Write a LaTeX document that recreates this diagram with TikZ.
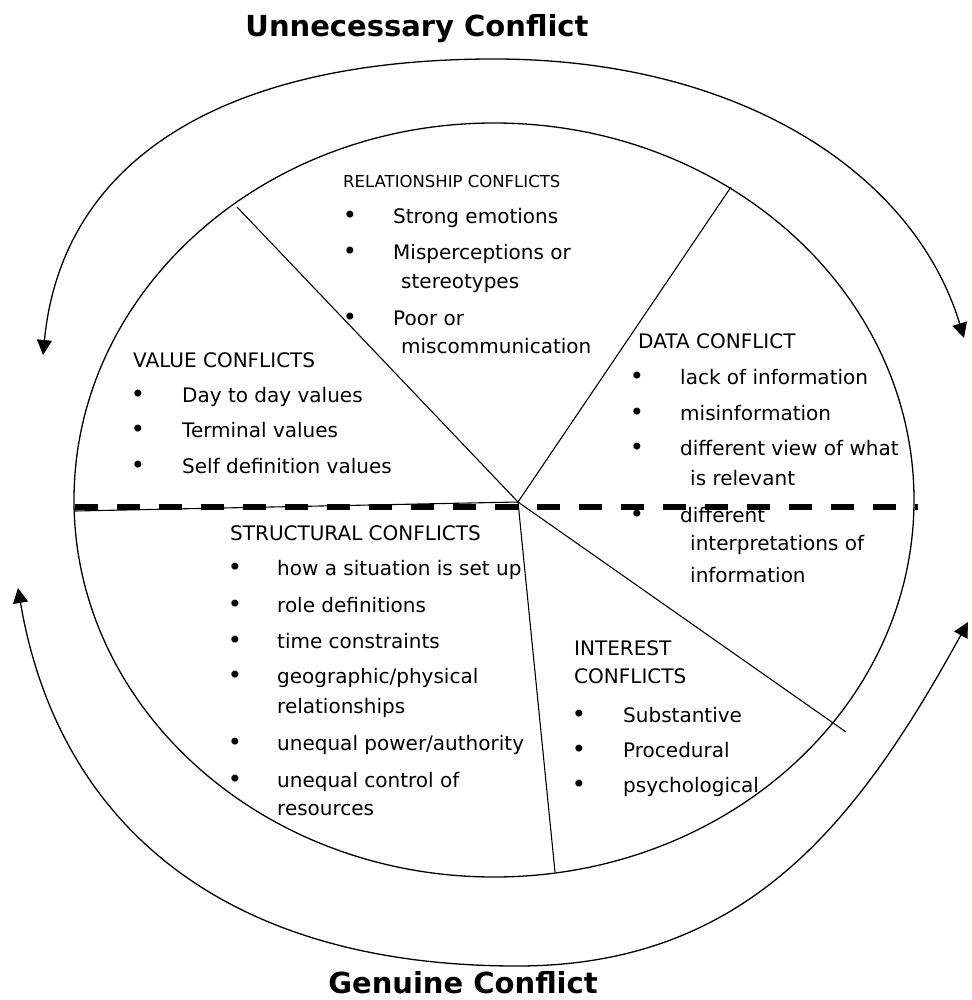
\documentclass[tikz,border=0pt]{standalone}
\usepackage{fontspec}
\setmainfont{DejaVu Sans}
\usetikzlibrary{arrows.meta}
\begin{document}
\begin{tikzpicture}[x=1pt,y=-1pt,
  body/.style={font=\fontsize{20}{24}\selectfont, inner sep=0pt, anchor=base west},
  bul/.style={font=\fontsize{24}{28}\selectfont, inner sep=0pt, anchor=base},
  smallhead/.style={font=\fontsize{16.5}{20}\selectfont, inner sep=0pt, anchor=base west},
  titletext/.style={font=\bfseries\fontsize{29}{34}\selectfont, inner sep=0pt, anchor=base},
  ring/.style={line width=1.3pt},
  divider/.style={line width=1.1pt},
  dashline/.style={line width=5.5pt, dash pattern=on 23pt off 19pt},
  cyc/.style={line width=1.3pt, {Triangle[width=15pt,length=15pt]}-{Triangle[width=15pt,length=15pt]}}
]
\useasboundingbox (0,0) rectangle (971,1000);

% titles
\node[titletext] (tTop) at (417,37) {Unnecessary Conflict};
\node[titletext] (tBot) at (463,993) {Genuine Conflict};

% outer cycle arrows
\coordinate (tl) at (43,355);
\coordinate (tm) at (494,59);
\coordinate (tr) at (964,338);
\coordinate (bl) at (18,588);
\coordinate (bm) at (517,966);
\coordinate (br) at (968,622);
\draw[cyc] (tl) .. controls (62,160) and (223,59) .. (tm)
                .. controls (740,59) and (914,173) .. (tr);
\draw[cyc] (bl) .. controls (57,818) and (217,966) .. (bm)
                .. controls (747,966) and (858,822) .. (br);

% inner circle
\draw[ring] (494,500) ellipse [x radius=420pt, y radius=377pt];

% dividers
\coordinate (C) at (518,502);
\coordinate (ul) at (237,207);
\coordinate (ur) at (731,187);
\coordinate (lf) at (75,511);
\coordinate (bt) at (555,872);
\coordinate (lr) at (846,732);
\coordinate (dl) at (75,507);
\coordinate (dr) at (918,507);
\draw[divider] (ul) -- (C);
\draw[divider] (ur) -- (C);
\draw[divider] (lf) -- (C);
\draw[divider] (C) -- (bt);
\draw[divider] (C) -- (lr);
\draw[dashline] (dl) -- (dr);

% relationship conflicts
\node[smallhead] (relH) at (343,188) {RELATIONSHIP CONFLICTS};
\node[bul] (relB1) at (350,223) {•};
\node[body] (rel1) at (393,223) {Strong emotions};
\node[bul] (relB2) at (350,259) {•};
\node[body] (rel2) at (393,259) {Misperceptions or};
\node[body] (rel2b) at (401,288) {stereotypes};
\node[bul] (relB3) at (350,325) {•};
\node[body] (rel3) at (393,325) {Poor or};
\node[body] (rel3b) at (401,353) {miscommunication};

% value conflicts
\node[body] (valH) at (133,367) {VALUE CONFLICTS};
\node[bul] (valB1) at (138,402) {•};
\node[body] (val1) at (182,402) {Day to day values};
\node[bul] (valB2) at (138,437) {•};
\node[body] (val2) at (182,437) {Terminal values};
\node[bul] (valB3) at (138,473) {•};
\node[body] (val3) at (182,473) {Self definition values};

% data conflict
\node[body] (datH) at (638,348) {DATA CONFLICT};
\node[bul] (datB1) at (637,384) {•};
\node[body] (dat1) at (680,384) {lack of information};
\node[bul] (datB2) at (637,420) {•};
\node[body] (dat2) at (680,420) {misinformation};
\node[bul] (datB3) at (637,455) {•};
\node[body] (dat3) at (680,455) {different view of what};
\node[body] (dat3b) at (690,485) {is relevant};
\node[bul] (datB4) at (637,522) {•};
\node[body] (dat4) at (680,522) {different};
\node[body] (dat4b) at (690,550) {interpretations of};
\node[body] (dat4c) at (690,582) {information};

% structural conflicts
\node[body] (strH) at (230,540) {STRUCTURAL CONFLICTS};
\node[bul] (strB1) at (235,575) {•};
\node[body] (str1) at (277,575) {how a situation is set up};
\node[bul] (strB2) at (235,612) {•};
\node[body] (str2) at (277,612) {role definitions};
\node[bul] (strB3) at (235,648) {•};
\node[body] (str3) at (277,648) {time constraints};
\node[bul] (strB4) at (235,683) {•};
\node[body] (str4) at (277,683) {geographic/physical};
\node[body] (str4b) at (277,713) {relationships};
\node[bul] (strB5) at (235,750) {•};
\node[body] (str5) at (277,750) {unequal power/authority};
\node[bul] (strB6) at (235,787) {•};
\node[body] (str6) at (277,787) {unequal control of};
\node[body] (str6b) at (277,815) {resources};

% interest conflicts
\node[body] (intH1) at (574,655) {INTEREST};
\node[body] (intH2) at (574,683) {CONFLICTS};
\node[bul] (intB1) at (579,722) {•};
\node[body] (int1) at (623,722) {Substantive};
\node[bul] (intB2) at (579,757) {•};
\node[body] (int2) at (623,757) {Procedural};
\node[bul] (intB3) at (579,792) {•};
\node[body] (int3) at (623,792) {psychological};
\end{tikzpicture}
\end{document}
